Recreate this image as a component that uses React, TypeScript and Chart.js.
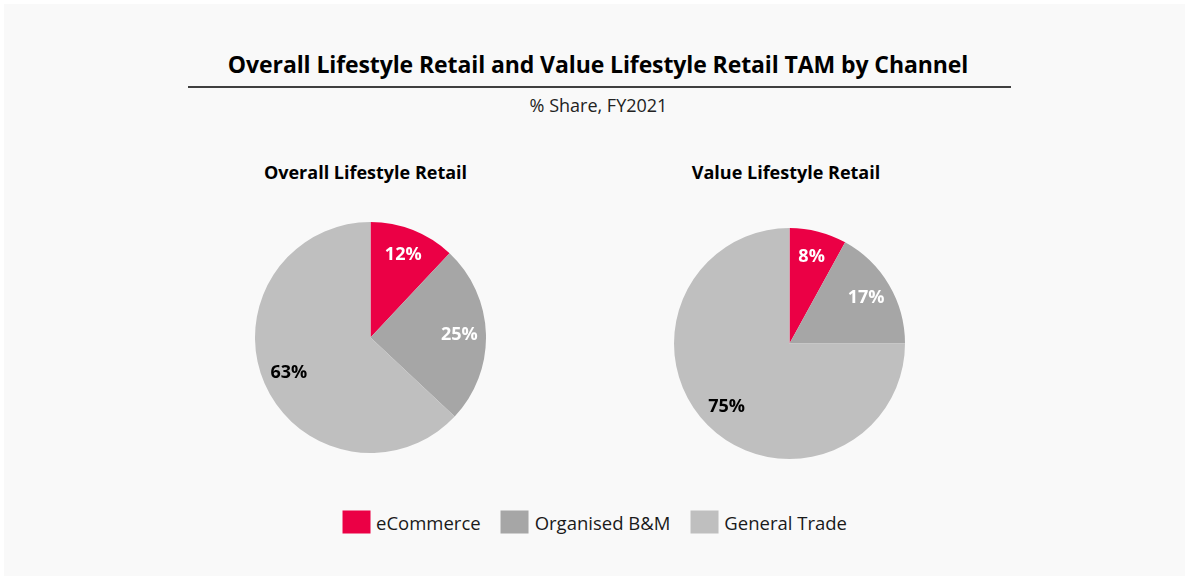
import React, { useEffect, useRef } from "react";
import { Chart, registerables } from "chart.js";

Chart.register(...registerables);

const chartTitle = "Overall Lifestyle Retail and Value Lifestyle Retail TAM by Channel";
const chartSubtitle = "% Share, FY2021";
const categories = ["eCommerce", "Organised B&M", "General Trade"];
const pieTitles = ["Overall Lifestyle Retail", "Value Lifestyle Retail"];
const overallValues = [12, 25, 63];
const valueRetailValues = [8, 17, 75];
const sliceColors = ["#EB0045", "#A6A6A6", "#BFBFBF"];
const labelColors = ["#FFFFFF", "#FFFFFF", "#000000"];

const FONT = "'Open Sans', Lato, sans-serif";

const sliceLabelPlugin = {
  id: "sliceLabels",
  afterDatasetsDraw(chart: any) {
    const ctx = chart.ctx;
    const meta = chart.getDatasetMeta(0);
    const data = chart.data.datasets[0].data as number[];
    ctx.save();
    ctx.font = `bold 18px ${FONT}`;
    ctx.textAlign = "center";
    ctx.textBaseline = "middle";
    meta.data.forEach((arc: any, i: number) => {
      const p = arc.getProps(["x", "y", "startAngle", "endAngle", "outerRadius"], true);
      const mid = (p.startAngle + p.endAngle) / 2;
      const r = p.outerRadius * 0.77;
      ctx.fillStyle = labelColors[i];
      ctx.fillText(`${data[i]}%`, p.x + Math.cos(mid) * r, p.y + Math.sin(mid) * r);
    });
    ctx.restore();
  },
};

function Pie({ values, left, top, size }: { values: number[]; left: number; top: number; size: number }) {
  const ref = useRef<HTMLCanvasElement>(null);
  useEffect(() => {
    const chart = new Chart(ref.current!, {
      type: "pie",
      data: {
        labels: categories,
        datasets: [
          {
            data: values,
            backgroundColor: sliceColors,
            borderWidth: 0,
          },
        ],
      },
      options: {
        animation: false,
        responsive: false,
        maintainAspectRatio: false,
        layout: { padding: 0 },
        plugins: {
          legend: { display: false },
          tooltip: { enabled: false },
        },
      },
      plugins: [sliceLabelPlugin],
    });
    return () => chart.destroy();
  }, [values]);
  return (
    <canvas
      ref={ref}
      width={size}
      height={size}
      style={{ position: "absolute", left, top, width: size, height: size }}
    />
  );
}

export default function App() {
  const textBase: React.CSSProperties = {
    position: "absolute",
    fontFamily: FONT,
    color: "#000",
    whiteSpace: "nowrap",
    transform: "translate(-50%, -50%)",
  };
  return (
    <div
      style={{
        position: "absolute",
        left: 0,
        top: 0,
        width: 1189,
        height: 585,
        background: "#FFFFFF",
        overflow: "hidden",
      }}
    >
      <div
        style={{
          position: "absolute",
          left: 4,
          top: 4,
          width: 1181,
          height: 572,
          background: "#F9F9F9",
        }}
      />
      <div style={{ ...textBase, left: 598, top: 64, fontSize: 23, fontWeight: 700, letterSpacing: -0.1 }}>{chartTitle}</div>
      <div
        style={{
          position: "absolute",
          left: 188,
          top: 86,
          width: 823,
          height: 1.5,
          background: "#404040",
        }}
      />
      <div style={{ ...textBase, left: 598.5, top: 105, fontSize: 18, color: "#222" }}>{chartSubtitle}</div>
      <div style={{ ...textBase, left: 365.5, top: 172, fontSize: 18, fontWeight: 700 }}>{pieTitles[0]}</div>
      <div style={{ ...textBase, left: 786, top: 172, fontSize: 18, fontWeight: 700 }}>{pieTitles[1]}</div>
      <Pie values={overallValues} left={255} top={221.5} size={231} />
      <Pie values={valueRetailValues} left={674} top={228} size={231} />
      <div
        style={{
          position: "absolute",
          left: 594.5,
          top: 522,
          transform: "translate(-50%, -50%)",
          display: "flex",
          alignItems: "center",
          fontFamily: FONT,
          fontSize: 18.5,
          color: "#1a1a1a",
          whiteSpace: "nowrap",
        }}
      >
        {categories.map((c, i) => (
          <div key={c} style={{ display: "flex", alignItems: "center", marginLeft: i === 0 ? 0 : 20 }}>
            <span
              style={{
                display: "inline-block",
                width: 28,
                height: 23,
                background: sliceColors[i],
                marginRight: 6,
              }}
            />
            <span>{c}</span>
          </div>
        ))}
      </div>
    </div>
  );
}
